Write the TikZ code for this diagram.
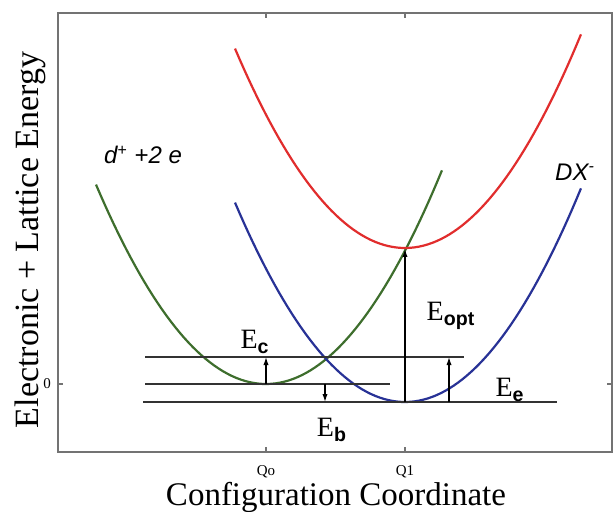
\documentclass[tikz,border=0pt]{standalone}
\usepackage{fontspec}
\setmainfont{Liberation Serif}
\newfontfamily\labelsans{Liberation Sans}
\usepackage{tikz}
\usetikzlibrary{arrows.meta}

\definecolor{curvegreen}{RGB}{62,110,45}
\definecolor{curveblue}{RGB}{40,50,150}
\definecolor{curvered}{RGB}{225,45,45}

\newcommand{\Esub}[1]{E\textsubscript{\labelsans\bfseries #1}}

\begin{document}
\begin{tikzpicture}[x=0.5pt,y=-0.5pt,
    curve/.style={line width=1.1pt},
    level/.style={line width=0.7pt,black!80},
    jump/.style={line width=0.6pt,-{Latex[length=4pt,width=2.6pt]}},
    elabel/.style={font=\fontsize{14}{16}\selectfont,inner sep=1pt},
    ticklabel/.style={font=\fontsize{7.5}{9}\selectfont,inner sep=1pt},
    statelabel/.style={font=\labelsans\itshape\fontsize{12}{14}\selectfont,inner sep=1pt}]
  \useasboundingbox (0,0) rectangle (614,512);

  % frame and ticks
  \draw[black!55,line width=0.8pt] (58,13) rectangle (612,452);
  \foreach \q in {266,405} {
    \draw[black!55,line width=0.6pt] (\q,13) -- (\q,18);
    \draw[black!55,line width=0.6pt] (\q,452) -- (\q,447);
  }
  \draw[black!55,line width=0.6pt] (58,384) -- (63,384);
  \draw[black!55,line width=0.6pt] (612,384) -- (607,384);

  % axis labels
  \node[ticklabel] (qzero) at (266,472) {Qo};
  \node[ticklabel] (qone) at (405,472) {Q1};
  \node[ticklabel] (zero) at (47,384) {0};
  \node[font=\fontsize{16.5}{19}\selectfont] (xlab) at (336,497) {Configuration Coordinate};
  \node[font=\fontsize{17}{20}\selectfont,rotate=90] (ylab) at (30,240) {Electronic + Lattice Energy};

  % the three potential curves (x in units of 100 px)
  \draw[curve,curvegreen] plot[domain=-1.70:1.76,samples=80] ({266+100*\x},{384-69*\x*\x});
  \draw[curve,curveblue] plot[domain=-1.70:1.76,samples=80] ({405+100*\x},{402-69*\x*\x});
  \draw[curve,curvered] plot[domain=-1.70:1.76,samples=80] ({405+100*\x},{248-69*\x*\x});

  \node[statelabel] (dplus) at (143,155) {d\textsuperscript{+} +2 e};
  \node[statelabel] (dxminus) at (575,172) {DX\textsuperscript{-}};

  % energy levels
  \coordinate (ctop-l) at (145,357);
  \coordinate (ctop-r) at (464,357);
  \coordinate (zero-l) at (145,384);
  \coordinate (zero-r) at (390,384);
  \coordinate (bot-l) at (143,402);
  \coordinate (bot-r) at (557,402);
  \draw[level] (ctop-l) -- (ctop-r);
  \draw[level] (zero-l) -- (zero-r);
  \draw[level] (bot-l) -- (bot-r);

  % transitions
  \coordinate (ec-from) at (266,384);
  \coordinate (ec-to) at (266,357);
  \coordinate (eb-from) at (325,384);
  \coordinate (eb-to) at (325,402);
  \coordinate (eopt-from) at (405,402);
  \coordinate (eopt-to) at (405,249);
  \coordinate (ee-from) at (449,402);
  \coordinate (ee-to) at (449,357);
  \draw[jump] (ec-from) -- (ec-to);
  \draw[jump] (eb-from) -- (eb-to);
  \draw[jump] (eopt-from) -- (eopt-to);
  \draw[jump] (ee-from) -- (ee-to);

  \node[elabel] (ec) at (255,342) {\Esub{c}};
  \node[elabel] (eb) at (332,430) {\Esub{b}};
  \node[elabel] (eopt) at (451,316) {\Esub{opt}};
  \node[elabel] (ee) at (510,390) {\Esub{e}};
\end{tikzpicture}
\end{document}
